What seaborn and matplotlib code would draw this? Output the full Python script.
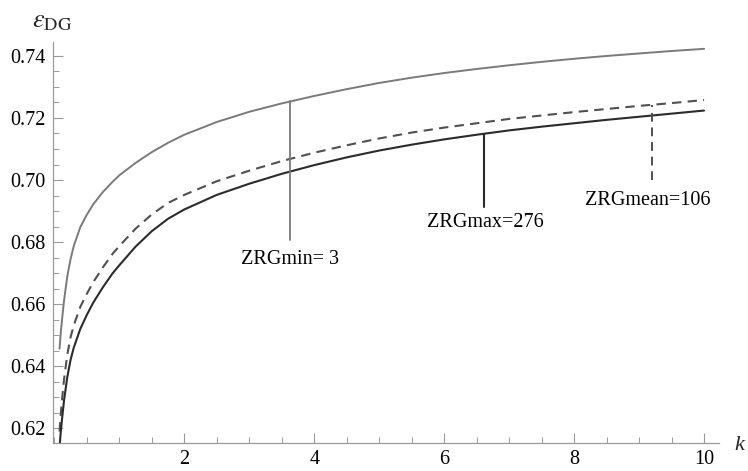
import numpy as np
import pandas as pd
import matplotlib
matplotlib.use("Agg")
import matplotlib.pyplot as plt
from matplotlib.ticker import MultipleLocator, FixedLocator
import seaborn as sns

# ---- data ----
k_vals = [0.08, 0.10, 0.12, 0.15, 0.20, 0.25, 0.30, 0.40, 0.50, 0.60, 0.75,
          0.90, 1.00, 1.25, 1.50, 1.75, 2.00, 2.50, 3.00, 3.50, 4.00, 4.50,
          5.00, 5.50, 6.00, 6.50, 7.00, 7.50, 8.00, 8.50, 9.00, 9.50, 10.0]
eps_min = [0.6456, 0.6510, 0.6553, 0.6612, 0.6690, 0.6745, 0.6788, 0.6848,
           0.6888, 0.6922, 0.6962, 0.6995, 0.7015, 0.7055, 0.7090, 0.7120,
           0.7146, 0.7187, 0.7220, 0.7247, 0.7271, 0.7293, 0.7313, 0.7330,
           0.7345, 0.7358, 0.7370, 0.7381, 0.7391, 0.7400, 0.7408, 0.7416,
           0.7423]
eps_mean = [0.6189, 0.6248, 0.6295, 0.6358, 0.6437, 0.6493, 0.6532, 0.6591,
            0.6633, 0.6671, 0.6719, 0.6763, 0.6787, 0.6843, 0.6889, 0.6926,
            0.6952, 0.6996, 0.7030, 0.7061, 0.7088, 0.7112, 0.7134, 0.7153,
            0.7169, 0.7183, 0.7197, 0.7208, 0.7219, 0.7229, 0.7239, 0.7248,
            0.7258]
eps_max = [0.6139, 0.6190, 0.6232, 0.6290, 0.6365, 0.6420, 0.6460, 0.6520,
           0.6565, 0.6605, 0.6655, 0.6700, 0.6725, 0.6785, 0.6835, 0.6875,
           0.6905, 0.6952, 0.6988, 0.7020, 0.7048, 0.7073, 0.7095, 0.7114,
           0.7131, 0.7146, 0.7160, 0.7172, 0.7183, 0.7194, 0.7204, 0.7214,
           0.7224]

ann_labels = ["ZRGmin= 3", "ZRGmax=276", "ZRGmean=106"]
ann_k = [3.63, 6.62, 9.20]
ann_top = [0.7254, 0.7149, 0.7243]
ann_bottom = [0.6806, 0.6914, 0.7000]
ann_text_k = [3.63, 6.63, 9.14]
ann_text_y = [0.6728, 0.6848, 0.6919]

y_ticks = [0.62, 0.64, 0.66, 0.68, 0.70, 0.72, 0.74]
x_ticks = [2, 4, 6, 8, 10]

# ---- style ----
sns.set_style("white")
plt.rcParams["font.family"] = ["Liberation Serif", "DejaVu Serif"]
plt.rcParams["mathtext.fontset"] = "stix"

fig = plt.figure(figsize=(7.48, 4.71), dpi=100)
ax = fig.add_axes([52.7 / 748, (471 - 443.3) / 471, 666.3 / 748, 401.6 / 471])

c_min, c_mean, c_max = "#7a7a7a", "#505050", "#2b2b2b"
dash = (0, (4.5, 3.0))

df = pd.DataFrame({"k": k_vals, "min": eps_min, "mean": eps_mean, "max": eps_max})
sns.lineplot(data=df, x="k", y="min", ax=ax, color=c_min, lw=1.4, estimator=None)
sns.lineplot(data=df, x="k", y="mean", ax=ax, color=c_mean, lw=1.5, estimator=None,
             linestyle=dash)
sns.lineplot(data=df, x="k", y="max", ax=ax, color=c_max, lw=1.5, estimator=None)

# annotation lines
ann_colors = [c_min, c_max, c_mean]
ann_styles = ["-", "-", dash]
ann_lw = [1.3, 1.5, 1.4]
for xk, yt, yb, col, ls, lw in zip(ann_k, ann_top, ann_bottom, ann_colors, ann_styles, ann_lw):
    ax.plot([xk, xk], [yb, yt], color=col, linestyle=ls, lw=lw)
for lab, tx, ty in zip(ann_labels, ann_text_k, ann_text_y):
    ax.text(tx, ty, lab, ha="center", va="baseline", fontsize=14.5, color="black")

ax.set_xlim(-0.025, 10.23)
ax.set_ylim(0.6151, 0.7446)

for s in ["top", "right"]:
    ax.spines[s].set_visible(False)
for s in ["left", "bottom"]:
    ax.spines[s].set_color("#9a9a9a")
    ax.spines[s].set_linewidth(0.9)

ax.xaxis.set_major_locator(FixedLocator(x_ticks))
ax.xaxis.set_minor_locator(MultipleLocator(0.5))
ax.yaxis.set_major_locator(FixedLocator(y_ticks))
ax.yaxis.set_minor_locator(MultipleLocator(0.005))
ax.set_xticklabels([str(t) for t in x_ticks])
ax.set_yticklabels([f"{t:.2f}" for t in y_ticks])

ax.tick_params(axis="both", which="major", direction="in", length=7, width=0.8,
               color="#9a9a9a", labelsize=14.5, labelcolor="black")
ax.tick_params(axis="both", which="minor", direction="in", length=4, width=0.7,
               color="#9a9a9a")
ax.tick_params(axis="x", which="major", pad=5)
ax.tick_params(axis="y", which="major", pad=5)
ax.tick_params(axis="both", which="both", left=True, bottom=True)

ax.set_xlabel("")
ax.set_ylabel("")

fig.text(739 / 748, 1 - 445 / 471, "k", fontsize=16, style="italic",
         ha="center", va="center")
fig.text(32 / 748, 1 - 27 / 471, r"$\varepsilon_{\mathrm{DG}}$", fontsize=19,
         ha="left", va="baseline")

fig.savefig("out.png", dpi=100)
